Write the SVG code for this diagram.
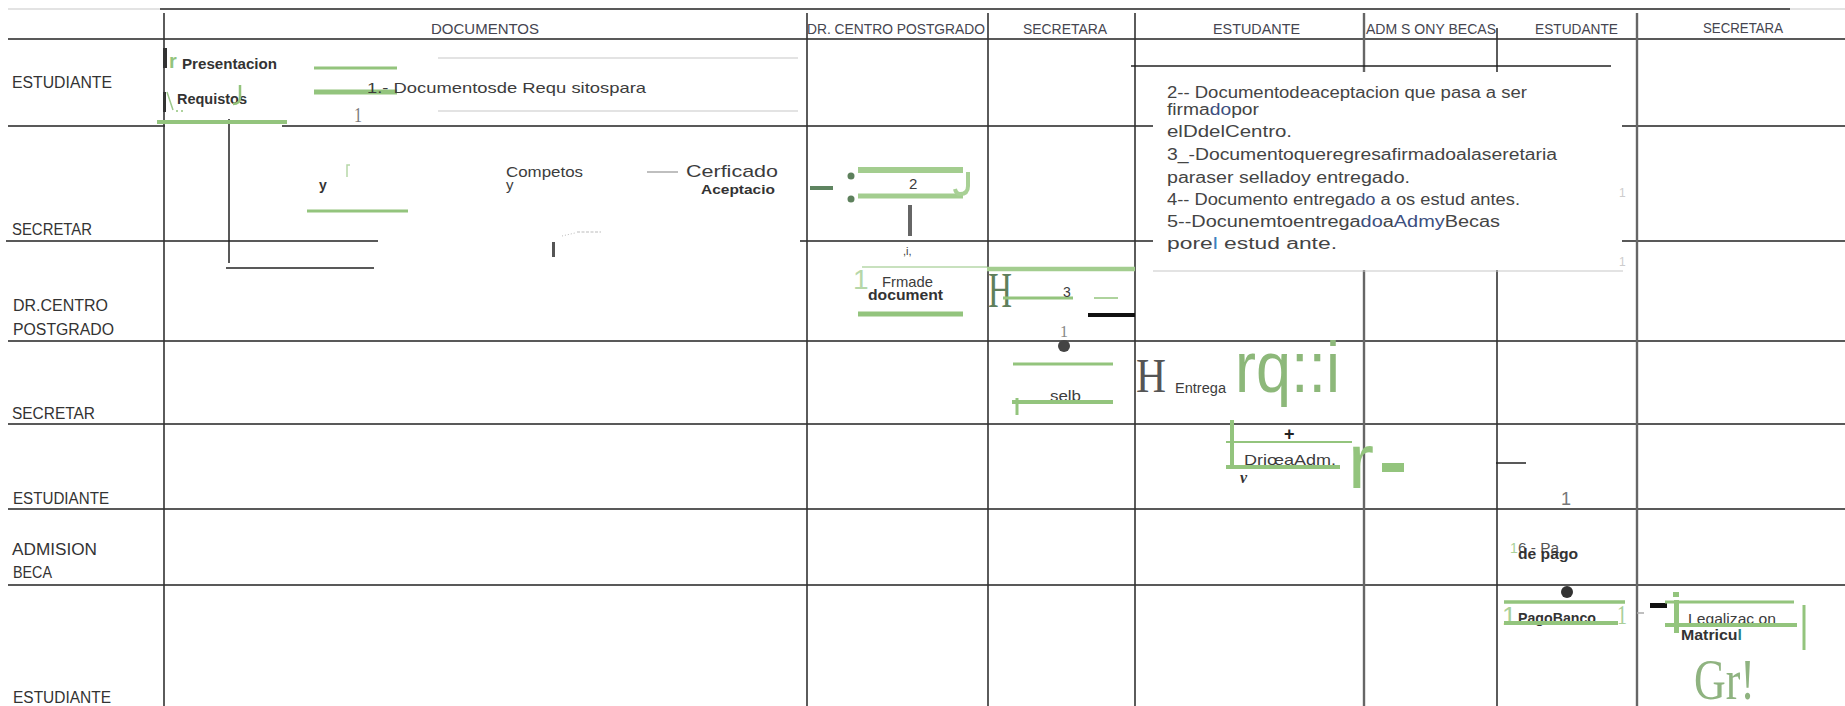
<svg xmlns="http://www.w3.org/2000/svg" width="1845" height="706" viewBox="0 0 1845 706">
<style>
.ln{stroke:#222;stroke-width:1.5;fill:none}
.lv{stroke:#333;stroke-width:1.6;fill:none}
.lvg{stroke:#666;stroke-width:2.4;fill:none}
.lg{stroke:#c8c8c8;stroke-width:1.2;fill:none}
.g{stroke:#93c47d;fill:none}
.gl{stroke:#b6d7a8;fill:none}
.t{font-family:"Liberation Sans",Arial,sans-serif;fill:#3c3c3c}
.h{font-size:15px;fill:#454550}
.lab{font-size:16px;fill:#333}
.box{font-size:16px;fill:#444}
.b{font-weight:bold;fill:#333}
.s{font-family:"Liberation Serif","Times New Roman",serif}
</style>
<rect width="1845" height="706" fill="#fff"/>

<g id="grid">
  <line class="lg" x1="8" y1="9" x2="160" y2="9"/>
  <line class="ln" x1="160" y1="9" x2="1790" y2="9"/>
  <line class="lg" x1="1790" y1="9" x2="1845" y2="9"/>
  <line class="ln" x1="8" y1="39" x2="1845" y2="39"/>
  <line class="ln" x1="8" y1="126" x2="165" y2="126"/>
  <line class="ln" x1="282" y1="126" x2="1845" y2="126"/>
  <line class="ln" x1="6" y1="241" x2="378" y2="241"/>
  <line class="ln" x1="800" y1="241" x2="1845" y2="241"/>
  <line class="ln" x1="8" y1="341" x2="1845" y2="341"/>
  <line class="ln" x1="8" y1="424" x2="1845" y2="424"/>
  <line class="ln" x1="8" y1="509" x2="1845" y2="509"/>
  <line class="ln" x1="8" y1="585" x2="1845" y2="585"/>
  <line class="lv" x1="164" y1="13" x2="164" y2="706"/>
  <line class="lv" x1="807" y1="13" x2="807" y2="706"/>
  <line class="lv" x1="988" y1="13" x2="988" y2="706"/>
  <line class="lv" x1="1135" y1="13" x2="1135" y2="706"/>
  <line class="lvg" x1="1364" y1="13" x2="1364" y2="706"/>
  <line class="lv" x1="1497" y1="28" x2="1497" y2="706"/>
  <line class="lvg" x1="1637" y1="13" x2="1637" y2="706"/>
</g>

<g id="headers" class="t h">
  <text x="431" y="34" textLength="108" lengthAdjust="spacingAndGlyphs">DOCUMENTOS</text>
  <text x="807" y="34" textLength="178" lengthAdjust="spacingAndGlyphs">DR. CENTRO POSTGRADO</text>
  <text x="1023" y="34" textLength="84" lengthAdjust="spacingAndGlyphs">SECRETARA</text>
  <text x="1213" y="34" textLength="87" lengthAdjust="spacingAndGlyphs">ESTUDANTE</text>
  <text x="1366" y="34" textLength="130" lengthAdjust="spacingAndGlyphs">ADM S ONY BECAS</text>
  <text x="1535" y="34" textLength="83" lengthAdjust="spacingAndGlyphs">ESTUDANTE</text>
  <text x="1703" y="33" textLength="80" lengthAdjust="spacingAndGlyphs">SECRETARA</text>
</g>

<g id="lanes" class="t lab">
  <text x="12" y="88" textLength="100" lengthAdjust="spacingAndGlyphs">ESTUDIANTE</text>
  <text x="12" y="235" textLength="80" lengthAdjust="spacingAndGlyphs">SECRETAR</text>
  <text x="13" y="311" textLength="95" lengthAdjust="spacingAndGlyphs">DR.CENTRO</text>
  <text x="13" y="335" textLength="101" lengthAdjust="spacingAndGlyphs">POSTGRADO</text>
  <text x="12" y="419" textLength="83" lengthAdjust="spacingAndGlyphs">SECRETAR</text>
  <text x="13" y="504" textLength="96" lengthAdjust="spacingAndGlyphs">ESTUDIANTE</text>
  <text x="12" y="555" textLength="85" lengthAdjust="spacingAndGlyphs">ADMISION</text>
  <text x="13" y="578" textLength="39" lengthAdjust="spacingAndGlyphs">BECA</text>
  <text x="13" y="703" textLength="98" lengthAdjust="spacingAndGlyphs">ESTUDIANTE</text>
</g>

<g id="connectors">
  <line class="ln" x1="229" y1="119" x2="229" y2="263"/>
  <line class="ln" x1="226" y1="268" x2="374" y2="268"/>
  <line class="ln" x1="1131" y1="66" x2="1611" y2="66"/>
  <line class="ln" x1="1496" y1="463" x2="1526" y2="463"/>
</g>

<g id="node-presentacion">
  <rect x="163" y="48" width="4" height="20" fill="#333"/>
  <text x="169" y="68" class="t" font-size="20" font-weight="bold" style="fill:#93c47d">r</text>
  <text x="182" y="69" class="t b" font-size="14" textLength="95" lengthAdjust="spacingAndGlyphs">Presentacion</text>
  <rect x="163" y="92" width="3" height="20" fill="#333"/>
  <line x1="167" y1="92" x2="173" y2="110" stroke="#9cc78a" stroke-width="1.5"/>
  <circle cx="177" cy="111" r="1" fill="#93c47d"/>
  <circle cx="182" cy="111" r="1" fill="#93c47d"/>
  <text x="177" y="104" class="t b" font-size="14" textLength="70" lengthAdjust="spacingAndGlyphs">Requistos</text>
  <path class="g" stroke-width="2.5" d="M240,85 V98 Q240,104 233,104"/>
  <line class="g" stroke-width="4" x1="157" y1="122" x2="287" y2="122"/>
</g>

<g id="node-requisitos">
  <line class="g" stroke-width="3" x1="314" y1="68" x2="397" y2="68"/>
  <line class="g" stroke-width="5" x1="314" y1="92" x2="397" y2="92"/>
  <text x="367" y="93" class="t" font-size="15" textLength="279" lengthAdjust="spacingAndGlyphs">1.- Documentosde Requ sitospara</text>
  <text x="354" y="122" class="s" font-size="22" fill="#777" textLength="8" lengthAdjust="spacingAndGlyphs">1</text>
  <line class="lg" x1="438" y1="58" x2="798" y2="58"/>
  <line class="lg" x1="438" y1="111" x2="798" y2="111"/>
</g>

<g id="node-completos">
  <path class="gl" stroke-width="1.5" d="M350,165 H347 V177"/>
  <text x="319" y="190" class="t b" font-size="14">y</text>
  <line class="g" stroke-width="3" x1="307" y1="211" x2="408" y2="211"/>
  <text x="506" y="177" class="t" font-size="15" textLength="77" lengthAdjust="spacingAndGlyphs">Competos</text>
  <text x="506" y="190" class="t" font-size="15">y</text>
  <line x1="647" y1="172" x2="678" y2="172" stroke="#aaa" stroke-width="1.5"/>
  <text x="686" y="177" class="t" font-size="17" textLength="92" lengthAdjust="spacingAndGlyphs">Cerficado</text>
  <text x="701" y="194" class="t b" font-size="13" textLength="74" lengthAdjust="spacingAndGlyphs">Aceptacio</text>
  <line x1="562" y1="236" x2="575" y2="233" stroke="#bbb" stroke-width="1" stroke-dasharray="1,2"/>
  <line x1="577" y1="232" x2="601" y2="232" stroke="#bbb" stroke-width="1" stroke-dasharray="3,1.5"/>
  <rect x="552" y="242" width="3" height="15" fill="#555"/>
</g>

<g id="node-2">
  <rect x="810" y="186" width="23" height="4" fill="#5e8460"/>
  <circle cx="851" cy="176" r="3.5" fill="#5d805c"/>
  <circle cx="851" cy="199" r="3.5" fill="#5d805c"/>
  <line stroke="#a3cd8f" stroke-width="6" x1="858" y1="170" x2="963" y2="170"/>
  <line stroke="#a3cd8f" stroke-width="5" x1="858" y1="196" x2="963" y2="196"/>
  <text x="909" y="189" class="t" font-size="15" fill="#444">2</text>
  <path d="M968,172 V186 Q968,194 960,194 Q956,194 955,189" stroke="#a8d095" stroke-width="4" fill="none"/>
  <rect x="908" y="205" width="4" height="31" fill="#666"/>
  <text x="903" y="255" class="t" font-size="11" fill="#555">,i,</text>
</g>

<g id="node-firma">
  <text x="853" y="289" class="t" font-size="28" style="fill:#b6d7a8">1</text>
  <line class="gl" stroke-width="1.5" x1="862" y1="267" x2="987" y2="267"/>
  <line stroke="#a3cd8f" stroke-width="4.5" x1="987" y1="269" x2="1135" y2="269"/>
  <text x="882" y="287" class="t" font-size="15" textLength="51" lengthAdjust="spacingAndGlyphs">Frmade</text>
  <text x="868" y="300" class="t b" font-size="15" textLength="75" lengthAdjust="spacingAndGlyphs">document</text>
  <line class="g" stroke-width="5" x1="858" y1="314" x2="963" y2="314"/>
</g>

<g id="node-3">
  <text x="988" y="307" class="s" font-size="50" fill="#5f7f5c" textLength="24" lengthAdjust="spacingAndGlyphs">H</text>
  <line class="g" stroke-width="3" x1="1003" y1="298" x2="1073" y2="298"/>
  <text x="1063" y="297" class="t" font-size="14" fill="#555">3</text>
  <line class="g" stroke-width="1.5" x1="1094" y1="298" x2="1118" y2="298"/>
  <line stroke="#111" stroke-width="4" x1="1088" y1="315" x2="1135" y2="315"/>
  <text x="1060" y="337" class="s" font-size="16" fill="#888">1</text>
</g>

<g id="node-sello">
  <circle cx="1064" cy="346" r="6" fill="#444"/>
  <line class="g" stroke-width="3" x1="1013" y1="364" x2="1113" y2="364"/>
  <text x="1050" y="401" class="t" font-size="14" fill="#444" textLength="31" lengthAdjust="spacingAndGlyphs">selb</text>
  <line class="g" stroke-width="4" x1="1012" y1="402" x2="1113" y2="402"/>
  <line class="g" stroke-width="3" x1="1017" y1="398" x2="1017" y2="415"/>
</g>

<g id="node-entrega">
  <text x="1136" y="392" class="s" font-size="48" fill="#555" textLength="30" lengthAdjust="spacingAndGlyphs">H</text>
  <text x="1175" y="393" class="t" font-size="14" textLength="51" lengthAdjust="spacingAndGlyphs">Entrega</text>
  <text x="1235" y="392" class="t" font-size="72" style="fill:#8db87a" textLength="105" lengthAdjust="spacingAndGlyphs">rq::i</text>
</g>

<g id="node-dirige">
  <line class="g" stroke-width="4" x1="1232" y1="420" x2="1232" y2="467"/>
  <text x="1284" y="440" class="t" font-size="18" font-weight="bold" style="fill:#222">+</text>
  <line class="g" stroke-width="2" x1="1226" y1="442" x2="1352" y2="442"/>
  <text x="1244" y="465" class="t" font-size="15" textLength="92" lengthAdjust="spacingAndGlyphs">DriœaAdm.</text>
  <line class="g" stroke-width="4" x1="1226" y1="467" x2="1340" y2="467"/>
  <text x="1240" y="483" class="s" font-size="16" font-style="italic" font-weight="bold" fill="#333">v</text>
  <text x="1348" y="488" class="t" font-size="78" style="fill:#93c47d">r</text>
  <rect x="1382" y="463" width="22" height="9" fill="#93c47d"/>
  <text x="1561" y="505" class="t" font-size="18" style="fill:#777">1</text>
</g>

<g id="node-pago">
  <text x="1510" y="553" class="t" font-size="14" style="fill:#a9d199">1</text>
  <text x="1518" y="553" class="t" font-size="14" style="fill:#555" textLength="41" lengthAdjust="spacingAndGlyphs">6 - Pa</text>
  <text x="1518" y="559" class="t b" font-size="14" textLength="60" lengthAdjust="spacingAndGlyphs">de pago</text>
</g>

<g id="node-banco">
  <circle cx="1567" cy="592" r="6" fill="#333"/>
  <line class="g" stroke-width="3.5" x1="1504" y1="602" x2="1625" y2="602"/>
  <text x="1502" y="625" class="t" font-size="26" style="fill:#a9d199">1</text>
  <text x="1518" y="623" class="t b" font-size="14" textLength="78" lengthAdjust="spacingAndGlyphs">PagoBanco</text>
  <line class="g" stroke-width="4" x1="1504" y1="623" x2="1618" y2="623"/>
  <text x="1617" y="624" class="s" font-size="28" fill="#a9cf98" textLength="10" lengthAdjust="spacingAndGlyphs">1</text>
  <line x1="1637" y1="613" x2="1644" y2="613" stroke="#aaa" stroke-width="1.5"/>
</g>

<g id="node-legalizacion">
  <rect x="1650" y="603" width="17" height="5" fill="#111"/>
  <rect x="1673" y="592" width="6" height="5" fill="#93c47d"/>
  <rect x="1674" y="600" width="5" height="33" fill="#93c47d"/>
  <line class="g" stroke-width="3" x1="1665" y1="602" x2="1794" y2="602"/>
  <text x="1688" y="624" class="t" font-size="15" fill="#444" textLength="88" lengthAdjust="spacingAndGlyphs">Legalizac on</text>
  <line class="g" stroke-width="4" x1="1665" y1="625" x2="1797" y2="625"/>
  <text x="1681" y="640" class="t b" font-size="14" textLength="61" lengthAdjust="spacingAndGlyphs">Matricu<tspan style="fill:#2a7f8a">l</tspan></text>
  <line class="g" stroke-width="3" x1="1804" y1="605" x2="1804" y2="650"/>
  <text x="1694" y="699" class="s" font-size="58" fill="#8fb380" textLength="61" lengthAdjust="spacingAndGlyphs">Gr!</text>
</g>

<g id="node-notes">
  <rect x="1153" y="72" width="469" height="198" fill="#fff"/>
  <line class="lg" x1="1153" y1="271" x2="1623" y2="271"/>
  <text x="1619" y="197" class="t" font-size="12" style="fill:#ccc">1</text>
  <text x="1619" y="266" class="t" font-size="12" style="fill:#ccc">1</text>
  <g class="t box">
    <text x="1167" y="98" textLength="360" lengthAdjust="spacingAndGlyphs">2-- Documentodeaceptacion que pasa a ser</text>
    <text x="1167" y="115" textLength="92" lengthAdjust="spacingAndGlyphs">firma<tspan style="fill:#3d4f80">do</tspan>por</text>
    <text x="1167" y="137" textLength="125" lengthAdjust="spacingAndGlyphs">elDdelCentro.</text>
    <text x="1167" y="160" textLength="390" lengthAdjust="spacingAndGlyphs">3_-Documentoqueregresafirmadoalaseretaria</text>
    <text x="1167" y="183" textLength="243" lengthAdjust="spacingAndGlyphs">paraser selladoy   entregado.</text>
    <text x="1167" y="205" textLength="353" lengthAdjust="spacingAndGlyphs">4-- Documento entrega<tspan style="fill:#3d4f80">do</tspan> a  os estud antes.</text>
    <text x="1167" y="227" textLength="333" lengthAdjust="spacingAndGlyphs">5--Docunemtoentrega<tspan style="fill:#3d4f80">do</tspan>a<tspan style="fill:#3d4f80">Admy</tspan>Becas</text>
    <text x="1167" y="249" textLength="170" lengthAdjust="spacingAndGlyphs">pore<tspan style="fill:#3a7fc0">l</tspan>   estud  ante.</text>
  </g>
</g>
</svg>
